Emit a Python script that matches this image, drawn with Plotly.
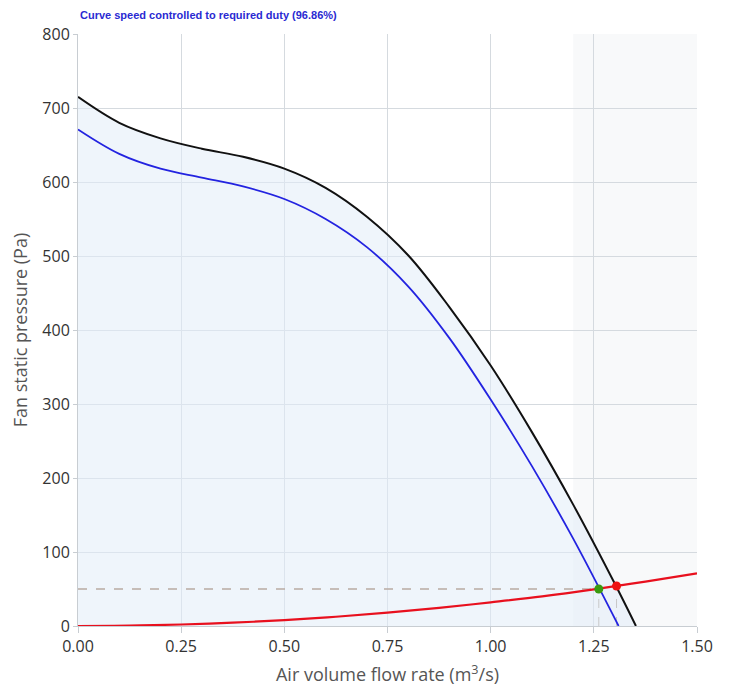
import plotly.graph_objects as go

# Full-speed fan curve (black)
full_q = [0, 0.1, 0.2, 0.3, 0.4, 0.5, 0.6, 0.7, 0.8, 0.9, 1.0, 1.1, 1.2, 1.3, 1.352]
full_p = [715, 680, 659, 645, 634, 618, 592, 553, 501, 431, 352, 262, 164, 58, 0]

# Controlled-speed fan curve (blue, 96.86%)
ctrl_q = [0, 0.1, 0.2, 0.3, 0.4, 0.5, 0.6, 0.7, 0.8, 0.9, 1.0, 1.1, 1.2, 1.31]
ctrl_p = [671, 638, 618, 606, 594, 577, 550, 512, 459, 389, 306, 216, 118, 0]

# System curve (red)
sys_q = [0, 0.125, 0.25, 0.375, 0.5, 0.625, 0.75, 0.875, 1.0, 1.125, 1.25, 1.375, 1.5]
sys_p = [0, 0.5, 2, 4.5, 8, 12.5, 18, 24.5, 32, 40, 49.5, 60, 71]

# Duty points
duty_q = [1.262]
duty_p = [50]
full_op_q = [1.305]
full_op_p = [54]

title_text = "Curve speed controlled to required duty (96.86%)"
x_ticks = [0, 0.25, 0.5, 0.75, 1.0, 1.25, 1.5]
y_ticks = [0, 100, 200, 300, 400, 500, 600, 700, 800]

fig = go.Figure()

# shaded area under full-speed curve
fig.add_trace(go.Scatter(x=full_q, y=full_p, mode="lines", line=dict(width=0, shape="spline"),
                         fill="tozeroy", fillcolor="rgba(225,236,248,0.55)", hoverinfo="skip",
                         showlegend=False))

# dashed duty line
fig.add_trace(go.Scatter(x=[0, duty_q[0]], y=[duty_p[0], duty_p[0]], mode="lines",
                         line=dict(color="#b9aaa2", width=1.5, dash="dash"), showlegend=False))
fig.add_trace(go.Scatter(x=[duty_q[0], duty_q[0]], y=[0, duty_p[0]], mode="lines",
                         line=dict(color="#c8c8c8", width=1, dash="dash"), showlegend=False))
fig.add_trace(go.Scatter(x=[full_op_q[0], full_op_q[0]], y=[0, full_op_p[0]], mode="lines",
                         line=dict(color="#c8c8c8", width=1, dash="dash"), showlegend=False))

fig.add_trace(go.Scatter(x=sys_q, y=sys_p, mode="lines", line=dict(color="#e8101e", width=2.2, shape="spline"),
                         showlegend=False))
fig.add_trace(go.Scatter(x=full_q, y=full_p, mode="lines", line=dict(color="#111111", width=2, shape="spline"),
                         showlegend=False))
fig.add_trace(go.Scatter(x=ctrl_q, y=ctrl_p, mode="lines", line=dict(color="#2323e0", width=1.8, shape="spline"),
                         showlegend=False))

fig.add_trace(go.Scatter(x=full_op_q, y=full_op_p, mode="markers",
                         marker=dict(color="#ee1111", size=9), showlegend=False))
fig.add_trace(go.Scatter(x=duty_q, y=duty_p, mode="markers",
                         marker=dict(color="#3a9a10", size=9), showlegend=False))

fig.add_shape(type="rect", xref="x", yref="y", x0=1.2, x1=1.5, y0=0, y1=800,
              fillcolor="#f8f9fa", line=dict(width=0), layer="below")

fig.add_annotation(text=title_text, xref="paper", yref="paper", x=0, y=1.0, yshift=19,
                   xanchor="left", yanchor="middle", showarrow=False,
                   font=dict(family="Liberation Sans, Arial", size=11, color="#2a2ad2", weight="bold"))

axis_font = dict(family="Open Sans, Noto Sans", size=16, color="#333333")
title_font = dict(family="Open Sans, Noto Sans", size=18, color="#555555")
fig.update_layout(
    width=726, height=682,
    margin=dict(l=70, r=37, t=26, b=64, autoexpand=False),
    plot_bgcolor="white", paper_bgcolor="white",
    xaxis=dict(range=[0, 1.5], tickvals=x_ticks, tickformat=".2f", showgrid=True, gridcolor="#d5dadf",
               gridwidth=1, zeroline=False, showline=True, linecolor="#c8cdd2", tickfont=axis_font,
               ticks="outside", ticklen=6, tickcolor="#c8cdd2", automargin=False,
               title=dict(text="Air volume flow rate (m<sup>3</sup>/s)", font=title_font, standoff=12)),
    yaxis=dict(range=[0, 800], tickvals=y_ticks, showgrid=True, gridcolor="#d5dadf", gridwidth=1,
               zeroline=False, showline=True, linecolor="#c8cdd2", tickfont=axis_font,
               ticks="outside", ticklen=4, tickcolor="#c8cdd2", automargin=False,
               title=dict(text="Fan static pressure (Pa)", font=title_font, standoff=10)),
)

fig.write_html("out.html")
